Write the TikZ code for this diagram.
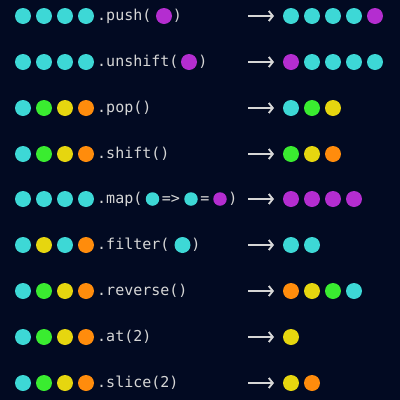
\documentclass[tikz,border=0pt]{standalone}
\usepackage{fontspec}
\setmonofont{DejaVu Sans Mono}
\usetikzlibrary{arrows.meta}
\definecolor{bg}{HTML}{020A22}
\definecolor{txt}{HTML}{D6D6D6}
\definecolor{cy}{HTML}{3DD8D6}
\definecolor{gr}{HTML}{3AEC30}
\definecolor{ye}{HTML}{E6D60F}
\definecolor{orn}{HTML}{FF8C0C}
\definecolor{pu}{HTML}{B42DD0}
\tikzset{
  dot/.style={circle,fill=#1,draw=none,inner sep=0pt,minimum size=16pt},
  sdot/.style={circle,fill=#1,draw=none,inner sep=0pt,minimum size=13.5pt},
  code/.style={font=\ttfamily\fontsize{15}{17}\selectfont,text=txt,inner sep=0pt,anchor=base west},
  paren/.style={font=\ttfamily\fontsize{15}{17}\selectfont,text=txt,inner sep=0pt,anchor=base},
  arr/.style={draw=txt,line width=1.9pt,-{Straight Barb[length=4pt,width=10pt]}}
}
\newcommand\dotrow[4]{%
  \foreach \c [count=\i] in {#4} \node[dot=\c] (#1\i) at ({#2+21*(\i-1)},#3) {};}
\newcommand\arrowat[2]{%
  \coordinate (#1s) at (248,#2); \coordinate (#1e) at (274,#2);
  \draw[arr] (#1s) -- (#1e);}
\begin{document}
\begin{tikzpicture}[x=1pt,y=-1pt]
\fill[bg] (0,0) rectangle (400,400);
\useasboundingbox (0,0) rectangle (400,400);
% row 1 push
\dotrow{La}{23}{16}{cy,cy,cy,cy}
\node[code] (ta) at (97,20.5) {.push(};
\node[dot=pu] (pa) at (164,16) {};
\node[paren] (qa) at (177.5,20.5) {)};
\arrowat{aa}{16}
\dotrow{Ra}{291}{16}{cy,cy,cy,cy,pu}
% row 2 unshift
\dotrow{Lb}{23}{62}{cy,cy,cy,cy}
\node[code] (tb) at (97,66.5) {.unshift(};
\node[dot=pu] (pb) at (189,62) {};
\node[paren] (qb) at (203,66.5) {)};
\arrowat{ab}{62}
\dotrow{Rb}{291}{62}{pu,cy,cy,cy,cy}
% row 3 pop
\dotrow{Lc}{23}{108}{cy,gr,ye,orn}
\node[code] (tc) at (97,112.5) {.pop()};
\arrowat{ac}{108}
\dotrow{Rc}{291}{108}{cy,gr,ye}
% row 4 shift
\dotrow{Ld}{23}{154}{cy,gr,ye,orn}
\node[code] (td) at (97,158.5) {.shift()};
\arrowat{ad}{154}
\dotrow{Rd}{291}{154}{gr,ye,orn}
% row 5 map
\dotrow{Le}{23}{199}{cy,cy,cy,cy}
\node[code] (te) at (97,203.5) {.map(};
\node[sdot=cy] (pe1) at (152.5,199) {};
\node[paren] (ee1) at (171,203.5) {=>};
\node[sdot=cy] (pe2) at (191,199) {};
\node[paren] (ee2) at (205,203.5) {=};
\node[sdot=pu] (pe3) at (220,199) {};
\node[paren] (qe) at (233,203.5) {)};
\arrowat{ae}{199}
\dotrow{Re}{291}{199}{pu,pu,pu,pu}
% row 6 filter
\dotrow{Lf}{23}{245}{cy,ye,cy,orn}
\node[code] (tf) at (97,249.5) {.filter(};
\node[dot=cy] (pf) at (182.5,245) {};
\node[paren] (qf) at (196,249.5) {)};
\arrowat{af}{245}
\dotrow{Rf}{291}{245}{cy,cy}
% row 7 reverse
\dotrow{Lg}{23}{291}{cy,gr,ye,orn}
\node[code] (tg) at (97,295.5) {.reverse()};
\arrowat{ag}{291}
\dotrow{Rg}{291}{291}{orn,ye,gr,cy}
% row 8 at
\dotrow{Lh}{23}{337}{cy,gr,ye,orn}
\node[code] (th) at (97,341.5) {.at(2)};
\arrowat{ah}{337}
\dotrow{Rh}{291}{337}{ye}
% row 9 slice
\dotrow{Li}{23}{383}{cy,gr,ye,orn}
\node[code] (ti) at (97,387.5) {.slice(2)};
\arrowat{ai}{383}
\dotrow{Ri}{291}{383}{ye,orn}
\end{tikzpicture}
\end{document}
